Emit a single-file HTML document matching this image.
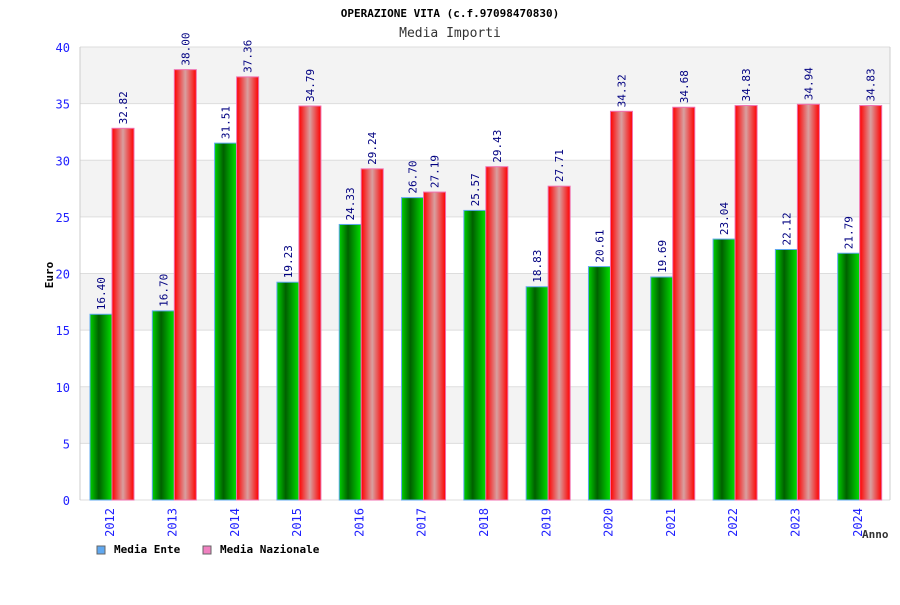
<!DOCTYPE html>
<html><head><meta charset="utf-8"><style>
body{margin:0;background:#fff;}
text{font-family:"DejaVu Sans Mono","Liberation Mono",monospace;}
</style></head><body>
<svg id="c" width="900" height="600" xmlns="http://www.w3.org/2000/svg">
<defs>
<linearGradient id="gG" x1="0" x2="1" y1="0" y2="0"><stop offset="0" stop-color="#00d000"/><stop offset="0.4" stop-color="#006000"/><stop offset="1" stop-color="#00e000"/></linearGradient>
<linearGradient id="gR" x1="0" x2="1" y1="0" y2="0"><stop offset="0" stop-color="#ff0000"/><stop offset="0.5" stop-color="#d8a0a0"/><stop offset="1" stop-color="#ff0000"/></linearGradient>
</defs>
<text x="450" y="17" text-anchor="middle" font-size="11" font-weight="bold" fill="#000">OPERAZIONE VITA (c.f.97098470830)</text>
<text x="450" y="37" text-anchor="middle" font-size="13" fill="#333">Media Importi</text>
<g id="plot"></g>
<text transform="translate(53,275) rotate(-90)" text-anchor="middle" font-size="11" font-weight="bold">Euro</text>
<text x="862" y="538" font-size="11" font-weight="bold" fill="#333">Anno</text>
<rect x="97" y="546" width="8" height="8" fill="#60a8f0" stroke="#666"/>
<text x="114" y="553" font-size="11" font-weight="bold">Media Ente</text>
<rect x="203" y="546" width="8" height="8" fill="#f080c0" stroke="#666"/>
<text x="220" y="553" font-size="11" font-weight="bold">Media Nazionale</text>
</svg>
<script>
const years=["2012","2013","2014","2015","2016","2017","2018","2019","2020","2021","2022","2023","2024"];
const ente=[16.40,16.70,31.51,19.23,24.33,26.70,25.57,18.83,20.61,19.69,23.04,22.12,21.79];
const nazionale=[32.82,38.00,37.36,34.79,29.24,27.19,29.43,27.71,34.32,34.68,34.83,34.94,34.83];
const yTicks=[0,5,10,15,20,25,30,35,40];
const NS="http://www.w3.org/2000/svg";
const L=80,R=890,T=47,B=500,YMAX=40;
const y=v=>B-(v/YMAX)*(B-T);
const gw=(R-L)/years.length;
const x=i=>L+i*gw;
const g=document.getElementById('plot');
function mk(t,a){const e=document.createElementNS(NS,t);for(const k in a)e.setAttribute(k,a[k]);g.appendChild(e);return e;}
for(let i=0;i<yTicks.length-1;i++){
 const gray=(i%2===1);
 const r=mk('rect',{x:L,y:y(yTicks[i+1]),width:R-L,height:y(yTicks[i])-y(yTicks[i+1]),fill:gray?'#f3f3f3':'#fff'});
 
 
}
yTicks.forEach(v=>{
 const l=mk('line',{x1:L,x2:R,y1:y(v),y2:y(v),stroke:'#ddd'});
 
 
 const t=mk('text',{x:70,y:y(v)+5,'text-anchor':'end','font-size':12,fill:'#2020ff'});
 t.textContent=v;
 
 
});
mk('line',{x1:L,x2:L,y1:T,y2:B,stroke:'#ccc'});
mk('line',{x1:R,x2:R,y1:T,y2:B,stroke:'#ccc'});
years.forEach((yr,i)=>{
 const gx=x(i)+10,rx=x(i)+32,w=22;
 const a=mk('rect',{x:gx,y:y(ente[i]),width:w,height:B-y(ente[i]),fill:'url(#gG)',stroke:'#60a8f0','stroke-width':1});
 
 
 const b=mk('rect',{x:rx,y:y(nazionale[i]),width:w,height:B-y(nazionale[i]),fill:'url(#gR)',stroke:'#f070b0','stroke-width':1});
 
 
 [[gx,ente[i]],[rx,nazionale[i]]].forEach(([bx,v])=>{
  const t=mk('text',{transform:`translate(${bx+w/2+4},${y(v)-4}) rotate(-90)`,'font-size':11,fill:'#000080'});
  t.textContent=v.toFixed(2);
  
  
 });
 const xl=mk('text',{transform:`translate(${x(i)+gw/2+3},508) rotate(-90)`,'text-anchor':'end','font-size':12,fill:'#2020ff'});
 xl.textContent=yr;
 
 
});
</script>
</body></html>
